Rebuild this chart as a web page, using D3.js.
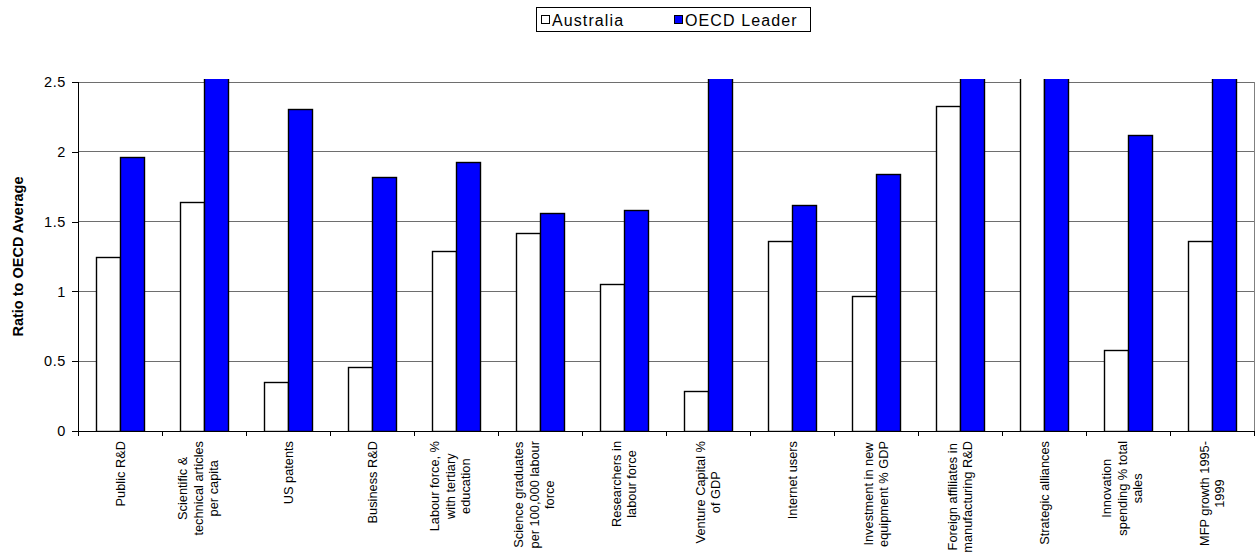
<!DOCTYPE html>
<html>
<head>
<meta charset="utf-8">
<script src="https://cdn.jsdelivr.net/npm/d3@7/dist/d3.min.js"></script>
<style>
  html, body { margin: 0; padding: 0; background: #fff; }
  svg { display: block; font-family: Arial, "Liberation Sans", sans-serif; }
</style>
</head>
<body>
<svg id="chart" width="1256" height="556"></svg>
<script>
// Innovation indicators, ratio to the OECD average
const categories = [
  ["Public R&D"],
  ["Scientific &", "technical articles", "per capita"],
  ["US patents"],
  ["Business R&D"],
  ["Labour force, %", "with tertiary", "education"],
  ["Science graduates", "per 100,000 labour", "force"],
  ["Researchers in", "labour force"],
  ["Venture Capital %", "of GDP"],
  ["Internet users"],
  ["Investment in new", "equipment % GDP"],
  ["Foreign affiliates in", "manufacturing R&D"],
  ["Strategic alliances"],
  ["Innovation", "spending % total", "sales"],
  ["MFP growth 1995-", "1999"]
];
const seriesNames = ["Australia", "OECD Leader"];
const australia  = [1.25, 1.64, 0.35, 0.46, 1.29, 1.42, 1.05, 0.29, 1.36, 0.97, 2.33, 2.6, 0.58, 1.36];
const oecdLeader = [1.96, 2.9, 2.31, 1.82, 1.93, 1.56, 1.58, 4.4, 1.62, 1.84, 2.8, 3.3, 2.12, 2.7];
const yTicks = [0, 0.5, 1, 1.5, 2, 2.5];
const seriesColors = ["#ffffff", "#0000ff"];

const svg = d3.select("#chart");
const plot = { left: 78, right: 1254, top: 82, bottom: 431 };

const x = d3.scaleBand()
  .domain(d3.range(categories.length))
  .range([plot.left, plot.right])
  .paddingInner(0).paddingOuter(0);
const x1 = d3.scaleBand()
  .domain(seriesNames)
  .range([0, x.bandwidth()])
  .paddingInner(0).paddingOuter(0.75);
const y = d3.scaleLinear().domain([0, 2.5]).range([plot.bottom, plot.top]);

// gridlines
svg.append("g")
  .selectAll("line")
  .data(yTicks.filter(d => d > 0))
  .join("line")
  .attr("x1", plot.left).attr("x2", plot.right)
  .attr("y1", d => y(d)).attr("y2", d => y(d))
  .attr("stroke", "#6e6e6e").attr("stroke-width", 1)
  .attr("shape-rendering", "crispEdges");

// right edge of plot area
svg.append("line")
  .attr("x1", plot.right).attr("x2", plot.right)
  .attr("y1", plot.top).attr("y2", plot.bottom)
  .attr("stroke", "#808080").attr("shape-rendering", "crispEdges");

// bars, clipped just above the top of the value axis
svg.append("clipPath").attr("id", "plotClip")
  .append("rect")
  .attr("x", plot.left - 2).attr("y", y(2.5) - 3)
  .attr("width", plot.right - plot.left + 4)
  .attr("height", plot.bottom - y(2.5) + 3);

const rows = categories.map((c, i) => ({ i, values: [australia[i], oecdLeader[i]] }));
const bars = svg.append("g").attr("clip-path", "url(#plotClip)");
bars.selectAll("g")
  .data(rows)
  .join("g")
  .attr("transform", d => `translate(${x(d.i)},0)`)
  .selectAll("rect")
  .data(d => d.values.map((v, k) => ({ k, v })))
  .join("rect")
  .attr("x", d => x1(seriesNames[d.k]) + 0.5)
  .attr("width", x1.bandwidth())
  .attr("y", d => Math.round(y(d.v)) + 0.5)
  .attr("height", d => plot.bottom - Math.round(y(d.v)))
  .attr("fill", d => seriesColors[d.k])
  .attr("stroke", "#000").attr("stroke-width", 1.4);

// value axis
const yAxis = d3.axisLeft(y)
  .tickValues(yTicks)
  .tickSize(6)
  .tickPadding(6)
  .tickFormat(d => d3.format("")(d));
const gy = svg.append("g")
  .attr("transform", `translate(${plot.left},0)`)
  .call(yAxis);
gy.select(".domain").attr("stroke", "#000").attr("shape-rendering", "crispEdges");
gy.selectAll(".tick line").attr("stroke", "#000").attr("shape-rendering", "crispEdges");
gy.selectAll(".tick text")
  .attr("font-size", 14.5).attr("fill", "#000")
  .attr("letter-spacing", 0.6)
  .attr("font-family", "Arial, 'Liberation Sans', sans-serif");

// category axis: baseline with ticks on category boundaries
const gx = svg.append("g");
gx.append("line")
  .attr("x1", plot.left).attr("x2", plot.right)
  .attr("y1", plot.bottom).attr("y2", plot.bottom)
  .attr("stroke", "#000").attr("shape-rendering", "crispEdges");
gx.selectAll("line.tick")
  .data(d3.range(categories.length + 1))
  .join("line")
  .attr("class", "tick")
  .attr("x1", i => i < categories.length ? x(i) : plot.right)
  .attr("x2", i => i < categories.length ? x(i) : plot.right)
  .attr("y1", plot.bottom).attr("y2", plot.bottom + 5)
  .attr("stroke", "#000").attr("shape-rendering", "crispEdges");

// rotated multi-line category labels
const lineH = 15.5;
const labelTop = 441;
categories.forEach((lines, i) => {
  // three-line labels sit a little left of the band centre
  const cx = x(i) + x.bandwidth() / 2 + (lines.length === 3 ? -6 : 0);
  const g = svg.append("g");
  const texts = lines.map(t => g.append("text")
    .attr("font-size", 12.8).attr("fill", "#000")
    .attr("text-anchor", "middle")
    .attr("dominant-baseline", "central")
    .text(t));
  const maxW = d3.max(texts, t => t.node().getComputedTextLength());
  const cy = labelTop + maxW / 2;
  texts.forEach((t, k) => {
    const lx = cx + (k - (lines.length - 1) / 2) * lineH;
    t.attr("transform", `translate(${lx},${cy}) rotate(-90)`);
  });
});

// value axis title
svg.append("text")
  .attr("transform", `translate(18,${(plot.top + plot.bottom) / 2}) rotate(-90)`)
  .attr("text-anchor", "middle")
  .attr("dominant-baseline", "central")
  .attr("font-size", 14.5).attr("font-weight", "bold")
  .text("Ratio to OECD Average");

// legend
const legend = svg.append("g");
legend.append("rect")
  .attr("x", 536.5).attr("y", 7.5).attr("width", 274).attr("height", 24)
  .attr("fill", "#fff").attr("stroke", "#000");
const legendItems = [
  { name: seriesNames[0], color: seriesColors[0], x: 541 },
  { name: seriesNames[1], color: seriesColors[1], x: 674 }
];
legendItems.forEach(it => {
  legend.append("rect")
    .attr("x", it.x + 0.5).attr("y", 15.5).attr("width", 8).attr("height", 8)
    .attr("fill", it.color).attr("stroke", "#000");
  legend.append("text")
    .attr("x", it.x + 11).attr("y", 20)
    .attr("dominant-baseline", "central")
    .attr("font-size", 16).attr("letter-spacing", 1.1)
    .text(it.name);
});
</script>
</body>
</html>
